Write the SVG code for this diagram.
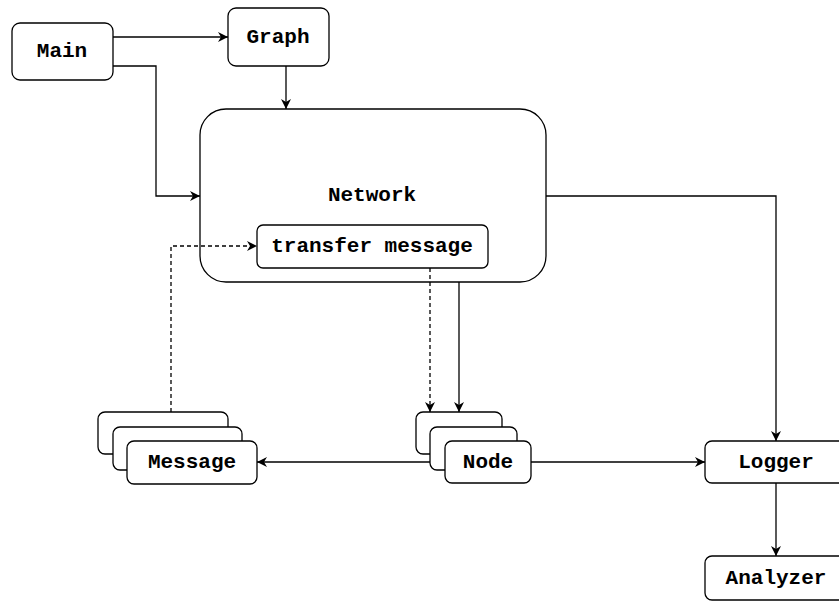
<svg xmlns="http://www.w3.org/2000/svg" width="839" height="601" viewBox="0 0 839 601">
<style>
.b{fill:#fff;stroke:#000;stroke-width:1.3}
.t{font-family:"Liberation Mono","Courier New",monospace;font-weight:bold;font-size:21px;text-anchor:middle;dominant-baseline:central;fill:#000}
.c{fill:none;stroke:#000;stroke-width:1.3}
.d{stroke-dasharray:4 3}
</style>
<defs>
<marker id="a" viewBox="0 0 10 10" refX="10" refY="5" markerWidth="10" markerHeight="10" markerUnits="userSpaceOnUse" orient="auto">
<path d="M0,0 L10,5 L0,10 L3,5 Z" fill="#000"/>
</marker>
</defs>
<rect width="839" height="601" fill="#fff"/>
<g id="main"><rect class="b" x="12" y="23" width="101" height="57" rx="8"/><text class="t" x="62" y="51">Main</text></g>
<g id="graph"><rect class="b" x="228" y="8" width="101" height="58" rx="8"/><text class="t" x="278" y="37">Graph</text></g>
<g id="network"><rect class="b" x="200" y="109" width="346" height="173" rx="26"/><text class="t" x="372" y="195">Network</text></g>
<g id="transfer"><rect class="b" x="257" y="225" width="231" height="43" rx="6"/><text class="t" x="372" y="246">transfer message</text></g>
<g id="message">
<rect class="b" x="98" y="412" width="130" height="42" rx="7"/>
<rect class="b" x="113" y="427" width="129" height="43" rx="7"/>
<rect class="b" x="127" y="441" width="130" height="43" rx="7"/>
<text class="t" x="192" y="462">Message</text>
</g>
<g id="node">
<rect class="b" x="416" y="412" width="86" height="42" rx="7"/>
<rect class="b" x="430" y="427" width="87" height="43" rx="7"/>
<rect class="b" x="445" y="441" width="86" height="42" rx="7"/>
<text class="t" x="488" y="462">Node</text>
</g>
<g id="logger"><rect class="b" x="705" y="441" width="142" height="42" rx="7"/><text class="t" x="776" y="462">Logger</text></g>
<g id="analyzer"><rect class="b" x="705" y="556" width="142" height="44" rx="7"/><text class="t" x="776" y="578">Analyzer</text></g>
<g id="connectors">
<path class="c" d="M113,37 H228" marker-end="url(#a)"/>
<path class="c" d="M113,66 H156 V196 H200" marker-end="url(#a)"/>
<path class="c" d="M286,66 V109" marker-end="url(#a)"/>
<path class="c" d="M546,196 H776 V441" marker-end="url(#a)"/>
<path class="c" d="M459,282 V412" marker-end="url(#a)"/>
<path class="c d" d="M430,268 V412" marker-end="url(#a)"/>
<path class="c d" d="M171,412 V246 H257" marker-end="url(#a)"/>
<path class="c" d="M430,462 H257" marker-end="url(#a)"/>
<path class="c" d="M531,462 H705" marker-end="url(#a)"/>
<path class="c" d="M776,483 V556" marker-end="url(#a)"/>
</g>
</svg>
